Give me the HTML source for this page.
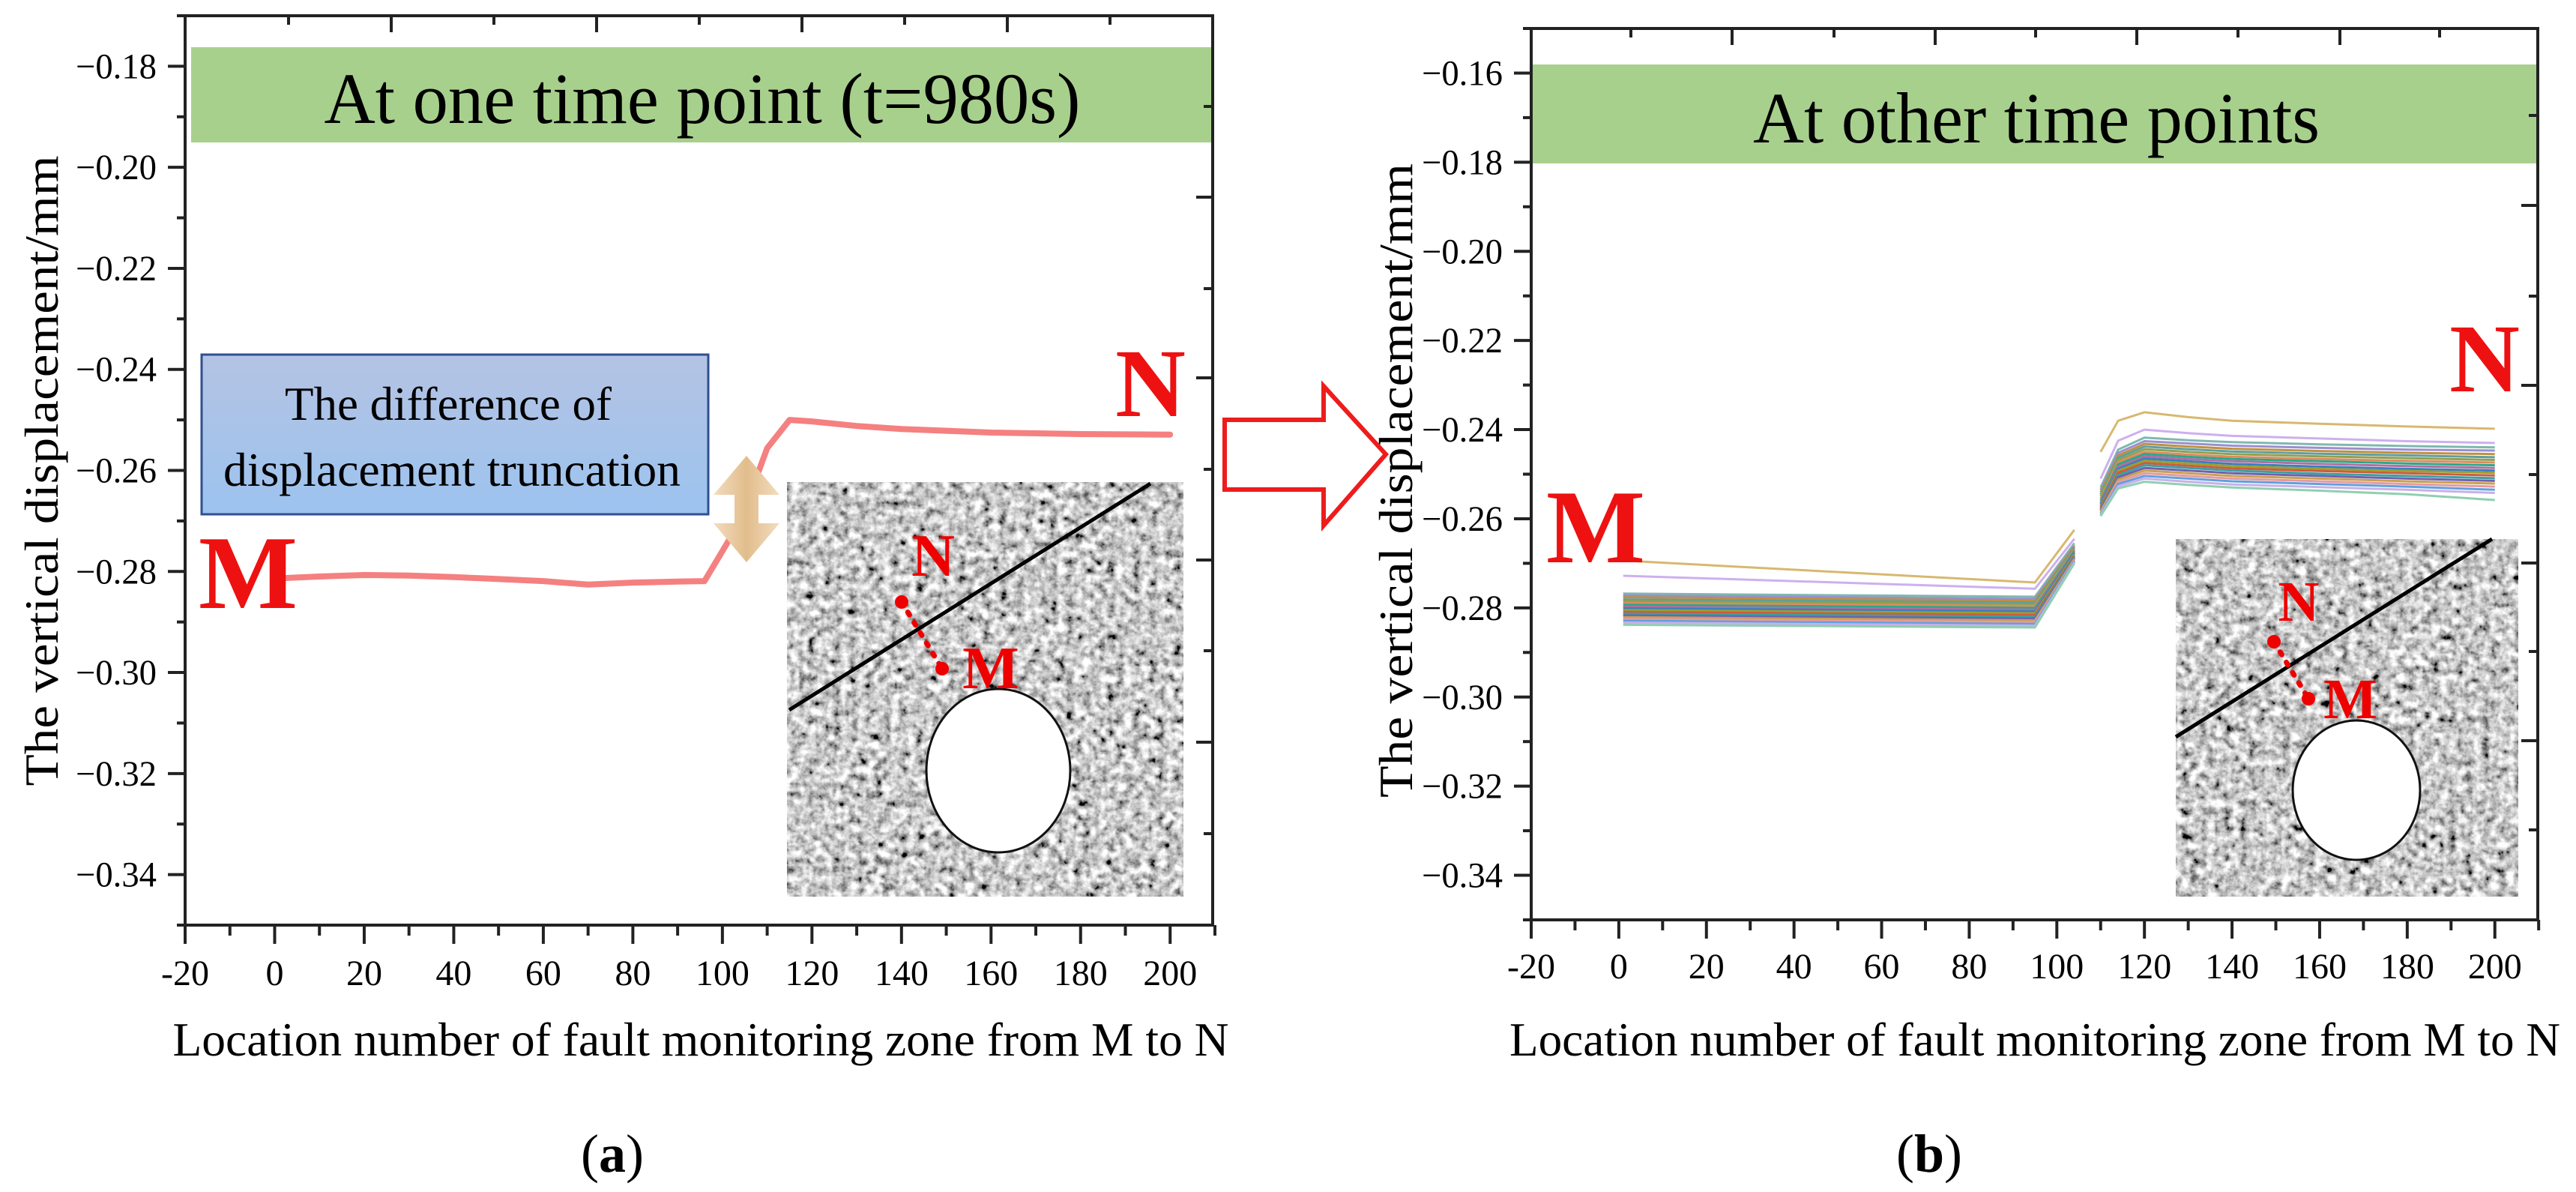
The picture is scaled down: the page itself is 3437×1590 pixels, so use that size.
<!DOCTYPE html>
<html><head><meta charset="utf-8"><style>
html,body{margin:0;padding:0;background:#fff;}
svg{display:block;font-family:"Liberation Serif",serif;}
</style></head><body>
<svg id="fig" width="3437" height="1590" viewBox="0 0 3437 1590" xmlns="http://www.w3.org/2000/svg">
<defs>
<filter id="noise" x="0" y="0" width="100%" height="100%">
<feTurbulence type="fractalNoise" baseFrequency="0.09" numOctaves="3" seed="3"/>
<feColorMatrix type="matrix" values="0.33 0.33 0.33 0 0  0.33 0.33 0.33 0 0  0.33 0.33 0.33 0 0  0 0 0 0 1"/>
<feComponentTransfer><feFuncR type="linear" slope="3.0" intercept="-0.9"/><feFuncG type="linear" slope="3.0" intercept="-0.9"/><feFuncB type="linear" slope="3.0" intercept="-0.9"/></feComponentTransfer>
</filter>
<linearGradient id="blueg" x1="0" y1="0" x2="0" y2="1"><stop offset="0" stop-color="#b4c3e3"/><stop offset="1" stop-color="#9cc3ef"/></linearGradient>
<linearGradient id="tang" x1="0" y1="0" x2="1" y2="0"><stop offset="0" stop-color="#f3dcc0"/><stop offset="0.5" stop-color="#e2bd8c"/><stop offset="1" stop-color="#f3dcc0"/></linearGradient>
</defs>
<g id="chartA"></g>
<g id="chartB"></g>

<polygon points="1634,560 1766,560 1766,515 1849,606 1766,701 1766,653 1634,653" fill="#fff" stroke="#ee1c1c" stroke-width="6"/>

<text x="817" y="1563" font-size="72" text-anchor="middle">(<tspan font-weight="bold">a</tspan>)</text>
<text x="2574" y="1563" font-size="72" text-anchor="middle">(<tspan font-weight="bold">b</tspan>)</text>
</svg>
<script>
// ---------- Chart A data ----------
const aX = [0,10,20,30,40,50,60,70,80,90,96,104,110,115,120,130,140,160,180,200];
const aY = [-0.2814,-0.2810,-0.2807,-0.2808,-0.2811,-0.2815,-0.2819,-0.2826,-0.2822,-0.2820,-0.2819,-0.2700,-0.2556,-0.2500,-0.2503,-0.2512,-0.2518,-0.2525,-0.2528,-0.2529];
const aXTicks = [-20,0,20,40,60,80,100,120,140,160,180,200];
const aYTicks = [-0.18,-0.20,-0.22,-0.24,-0.26,-0.28,-0.30,-0.32,-0.34];

// ---------- Chart B data ----------
const bXLeft = [1,95,104];
const bXRight = [110,114,120,130,140,160,180,200];
const bLeft = [
[-0.2694,-0.2743,-0.2625],
[-0.2728,-0.2757,-0.2645],
[-0.2768,-0.2775,-0.2655],
[-0.2772,-0.2780,-0.2660],
[-0.2776,-0.2784,-0.2662],
[-0.2781,-0.2788,-0.2665],
[-0.2785,-0.2792,-0.2668],
[-0.2789,-0.2796,-0.2670],
[-0.2793,-0.2800,-0.2672],
[-0.2797,-0.2804,-0.2675],
[-0.2801,-0.2808,-0.2677],
[-0.2805,-0.2812,-0.2680],
[-0.2809,-0.2816,-0.2683],
[-0.2813,-0.2820,-0.2685],
[-0.2817,-0.2824,-0.2688],
[-0.2821,-0.2828,-0.2690],
[-0.2825,-0.2832,-0.2693],
[-0.2829,-0.2836,-0.2695],
[-0.2833,-0.2840,-0.2698],
[-0.2838,-0.2844,-0.2700]
];
const bRight = [
[-0.2450,-0.2380,-0.2361,-0.2372,-0.2380,-0.2387,-0.2393,-0.2398],
[-0.2510,-0.2425,-0.2400,-0.2408,-0.2414,-0.2420,-0.2426,-0.2430],
[-0.2530,-0.2445,-0.2418,-0.2424,-0.2428,-0.2433,-0.2437,-0.2440],
[-0.2535,-0.2452,-0.2426,-0.2431,-0.2436,-0.2441,-0.2445,-0.2447],
[-0.2540,-0.2458,-0.2432,-0.2438,-0.2443,-0.2448,-0.2452,-0.2455],
[-0.2545,-0.2463,-0.2438,-0.2444,-0.2449,-0.2454,-0.2458,-0.2462],
[-0.2550,-0.2468,-0.2444,-0.2450,-0.2455,-0.2460,-0.2464,-0.2468],
[-0.2555,-0.2473,-0.2450,-0.2456,-0.2461,-0.2466,-0.2470,-0.2474],
[-0.2560,-0.2478,-0.2455,-0.2461,-0.2466,-0.2471,-0.2476,-0.2480],
[-0.2565,-0.2483,-0.2460,-0.2466,-0.2471,-0.2477,-0.2482,-0.2486],
[-0.2568,-0.2488,-0.2465,-0.2471,-0.2477,-0.2483,-0.2488,-0.2492],
[-0.2572,-0.2492,-0.2470,-0.2476,-0.2482,-0.2488,-0.2493,-0.2497],
[-0.2575,-0.2497,-0.2475,-0.2481,-0.2487,-0.2493,-0.2498,-0.2503],
[-0.2578,-0.2502,-0.2480,-0.2486,-0.2492,-0.2499,-0.2504,-0.2509],
[-0.2581,-0.2507,-0.2486,-0.2492,-0.2498,-0.2504,-0.2510,-0.2515],
[-0.2584,-0.2512,-0.2492,-0.2498,-0.2504,-0.2510,-0.2516,-0.2521],
[-0.2587,-0.2517,-0.2498,-0.2504,-0.2510,-0.2516,-0.2522,-0.2528],
[-0.2590,-0.2522,-0.2504,-0.2510,-0.2516,-0.2522,-0.2528,-0.2535],
[-0.2592,-0.2527,-0.2510,-0.2517,-0.2523,-0.2529,-0.2535,-0.2542],
[-0.2594,-0.2532,-0.2517,-0.2524,-0.2530,-0.2537,-0.2545,-0.2558]
];
const bColors = ["#d8b870","#cdb0ee","#7fb8b0","#9a8fd0","#c09040","#5f9ea0","#8fa050","#e08a60","#2aa88a","#b06fa0","#3a7fc0","#9aa030","#d05a40","#3aa0a0","#7060b0","#c8a050","#e59aa0","#60a0e0","#c8b0e8","#8fd0b0"];
const bXTicks = [-20,0,20,40,60,80,100,120,140,160,180,200];
const bYTicks = [-0.16,-0.18,-0.20,-0.22,-0.24,-0.26,-0.28,-0.30,-0.32,-0.34];

const NS = "http://www.w3.org/2000/svg";
function mk(parent, tag, attrs, text){
  const e = document.createElementNS(NS, tag);
  for (const k in attrs) e.setAttribute(k, attrs[k]);
  if (text !== undefined) e.textContent = text;
  parent.appendChild(e);
  return e;
}
function fmtY(v){ return "\u2212" + Math.abs(v).toFixed(2); }

function buildAxes(g, cfg){
  const sx = v => cfg.L + (v - cfg.xmin) / (cfg.xmax - cfg.xmin) * (cfg.R - cfg.L);
  const sy = v => cfg.T + (cfg.ymax - v) / (cfg.ymax - cfg.ymin) * (cfg.B - cfg.T);
  const fr = mk(g, "rect", {x:cfg.L, y:cfg.T, width:cfg.R-cfg.L, height:cfg.B-cfg.T, fill:"none", stroke:"#222", "stroke-width":4});
  
  
  cfg.xticks.forEach(v => {
    const x = sx(v);
    const t = mk(g, "line", {x1:x, y1:cfg.B, x2:x, y2:cfg.B+25, stroke:"#222", "stroke-width":4});
    
    
    const m = mk(g, "line", {x1:sx(v+10), y1:cfg.B, x2:sx(v+10), y2:cfg.B+14, stroke:"#222", "stroke-width":4});
    
    
    const lb = mk(g, "text", {x:x, y:cfg.xLabY, "font-size":48, "text-anchor":"middle"}, String(v));
    
    
  });
  cfg.yticks.forEach(v => {
    const y = sy(v);
    const t = mk(g, "line", {x1:cfg.L-23, y1:y, x2:cfg.L, y2:y, stroke:"#222", "stroke-width":4});
    
    
    const m = mk(g, "line", {x1:cfg.L-11, y1:sy(v-0.01), x2:cfg.L, y2:sy(v-0.01), stroke:"#222", "stroke-width":4});
    
    
    const lb = mk(g, "text", {x:cfg.L-38, y:y+16, "font-size":48, "text-anchor":"end", textLength:108, lengthAdjust:"spacingAndGlyphs"}, fmtY(v));
    
    
  });
  const mm = mk(g, "line", {x1:cfg.L-11, y1:sy(cfg.ymax), x2:cfg.L, y2:sy(cfg.ymax), stroke:"#222", "stroke-width":4});
  
  
  cfg.topTicks.forEach((x,i) => {
    const t = mk(g, "line", {x1:x, y1:cfg.T, x2:x, y2:cfg.T+(i%2?22:12), stroke:"#222", "stroke-width":4});
    
    
  });
  cfg.rightTicks.forEach((y,i) => {
    const t = mk(g, "line", {x1:cfg.R, y1:y, x2:cfg.R-(i%2?22:12), y2:y, stroke:"#222", "stroke-width":4});
    
    
  });
  return {sx, sy};
}

function inset(g, o){
  const r = mk(g, "rect", {x:o.x, y:o.y, width:o.w, height:o.h, fill:"#999", filter:"url(#noise)"});
  
  
  const ln = mk(g, "line", {x1:o.l[0], y1:o.l[1], x2:o.l[2], y2:o.l[3], stroke:"#000", "stroke-width":5});
  
  
  const el = mk(g, "ellipse", {cx:o.c[0], cy:o.c[1], rx:o.c[2], ry:o.c[3], fill:"#fff", stroke:"#111", "stroke-width":3});
  
  
  const dl = mk(g, "line", {x1:o.d[0], y1:o.d[1], x2:o.d[2], y2:o.d[3], stroke:"#e00", "stroke-width":7, "stroke-dasharray":"4 12", "stroke-linecap":"round"});
  
  
  [[o.d[0],o.d[1]],[o.d[2],o.d[3]]].forEach(p => {
    const c = mk(g, "circle", {cx:p[0], cy:p[1], r:9, fill:"#e00"});
    
    
  });
  const n = mk(g, "text", {x:o.n[0], y:o.n[1], "font-size":o.fs, "font-weight":"bold", fill:"#e00", "text-anchor":"middle"}, "N");
  
  
  const m = mk(g, "text", {x:o.m[0], y:o.m[1], "font-size":o.fs, "font-weight":"bold", fill:"#e00", "text-anchor":"middle"}, "M");
  
  
}

(function(){
  const g = document.getElementById("chartA");
  const band = mk(g, "rect", {x:255, y:63, width:1362, height:127, fill:"#a8d08d"});
  
  
  const tt = mk(g, "text", {x:937, y:164, "font-size":96, "text-anchor":"middle", textLength:1009, lengthAdjust:"spacingAndGlyphs"}, "At one time point (t=980s)");
  
  
  const ax = buildAxes(g, {L:247, R:1618, T:21, B:1234, xmin:-20, xmax:209.5, ymin:-0.35, ymax:-0.17,
    xticks:aXTicks, yticks:aYTicks, xLabY:1314,
    topTicks:[385,522,659,796,933,1070,1207,1344,1481],
    rightTicks:[142,263,385,504,626,747,868,990,1112]});
  const pts = aX.map((x,i) => ax.sx(x).toFixed(1)+","+ax.sy(aY[i]).toFixed(1)).join(" ");
  const pl = mk(g, "polyline", {points:pts, fill:"none", stroke:"#f47272", "stroke-width":8, "stroke-linejoin":"round", "stroke-linecap":"round", opacity:0.9});
  
  
  const bx = mk(g, "rect", {x:269, y:473, width:676, height:213, fill:"url(#blueg)", stroke:"#2f4f8f", "stroke-width":3});
  
  
  const t1 = mk(g, "text", {x:598, y:560, "font-size":64, "text-anchor":"middle", textLength:436, lengthAdjust:"spacingAndGlyphs"}, "The difference of");
  
  
  const t2 = mk(g, "text", {x:603, y:648, "font-size":64, "text-anchor":"middle", textLength:610, lengthAdjust:"spacingAndGlyphs"}, "displacement truncation");
  
  
  const da = mk(g, "polygon", {points:"996,608 1040,660 1012,660 1012,698 1040,698 996,750 952,698 980,698 980,660 952,660", fill:"url(#tang)"});
  
  
  const M = mk(g, "text", {x:331, y:811, "font-size":140, "font-weight":"bold", fill:"#ee1111", "text-anchor":"middle"}, "M");
  
  
  const N = mk(g, "text", {x:1535, y:555, "font-size":130, "font-weight":"bold", fill:"#ee1111", "text-anchor":"middle"}, "N");
  
  
  inset(g, {x:1050, y:643, w:529, h:553, l:[1053,947,1535,645], c:[1332,1028,96,109], d:[1203,803,1257,892], n:[1245,768], m:[1322,918], fs:80});
  const xl = mk(g, "text", {x:935, y:1408, "font-size":64, "text-anchor":"middle", textLength:1409, lengthAdjust:"spacingAndGlyphs"}, "Location number of fault monitoring zone from M to N");
  
  
  const yl = mk(g, "text", {x:0, y:0, "font-size":64, "text-anchor":"middle", textLength:841, lengthAdjust:"spacingAndGlyphs", transform:"translate(77,628) rotate(-90)"}, "The vertical displacement/mm");
  
  
})();

(function(){
  const g = document.getElementById("chartB");
  const band = mk(g, "rect", {x:2045, y:86, width:1341, height:132, fill:"#a8d08d"});
  
  
  const tt = mk(g, "text", {x:2717, y:190, "font-size":96, "text-anchor":"middle", textLength:756, lengthAdjust:"spacingAndGlyphs"}, "At other time points");
  
  
  const ax = buildAxes(g, {L:2043, R:3386, T:38, B:1227, xmin:-20, xmax:209.8, ymin:-0.35, ymax:-0.15,
    xticks:bXTicks, yticks:bYTicks, xLabY:1305,
    topTicks:[2176,2311,2447,2582,2716,2851,2986,3122,3255],
    rightTicks:[154,274,395,514,633,751,869,988,1107]});
  bLeft.forEach((s,i) => {
    const pts = bXLeft.map((x,j) => ax.sx(x).toFixed(1)+","+ax.sy(s[j]).toFixed(1)).join(" ");
    const pl = mk(g, "polyline", {points:pts, fill:"none", stroke:bColors[i], "stroke-width":3});
    
    
  });
  bRight.forEach((s,i) => {
    const pts = bXRight.map((x,j) => ax.sx(x).toFixed(1)+","+ax.sy(s[j]).toFixed(1)).join(" ");
    const pl = mk(g, "polyline", {points:pts, fill:"none", stroke:bColors[i], "stroke-width":3});
    
    
  });
  const M = mk(g, "text", {x:2129, y:750, "font-size":140, "font-weight":"bold", fill:"#ee1111", "text-anchor":"middle"}, "M");
  
  
  const N = mk(g, "text", {x:3315, y:522, "font-size":130, "font-weight":"bold", fill:"#ee1111", "text-anchor":"middle"}, "N");
  
  
  inset(g, {x:2903, y:719, w:457, h:477, l:[2903,983,3325,719], c:[3144,1054,85,93], d:[3034,856,3080,932], n:[3067,828], m:[3136,958], fs:76});
  const xl = mk(g, "text", {x:2715, y:1408, "font-size":64, "text-anchor":"middle", textLength:1402, lengthAdjust:"spacingAndGlyphs"}, "Location number of fault monitoring zone from M to N");
  
  
  const yl = mk(g, "text", {x:0, y:0, "font-size":64, "text-anchor":"middle", textLength:846, lengthAdjust:"spacingAndGlyphs", transform:"translate(1884,641) rotate(-90)"}, "The vertical displacement/mm");
  
  
})();
</script>
</body></html>
